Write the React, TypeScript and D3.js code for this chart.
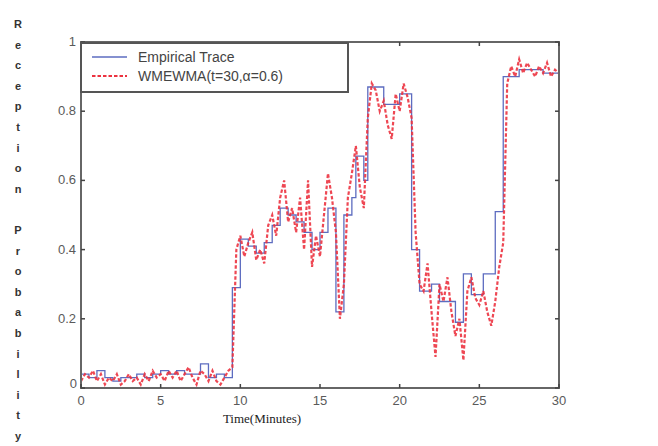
import React from "react";
import * as d3 from "d3";

// Empirical trace: step start times (minutes) and values
const stepTimes = [
  0, 0.5, 1, 1.5, 2, 2.5, 3, 3.5, 4, 4.5, 5, 5.5, 6, 6.5, 7, 7.5, 8, 8.5, 9, 9.5,
  10, 10.5, 11, 11.5, 12, 12.5, 13, 13.5, 14, 14.5, 15, 15.5, 16, 16.5, 17, 17.25,
  17.75, 18, 19, 20, 20.75, 21.25, 22, 22.5, 23.5, 24, 24.5, 25.25, 26, 26.5, 27.5,
  29, 30,
];
const stepValues = [
  0.04, 0.03, 0.05, 0.03, 0.02, 0.03, 0.03, 0.04, 0.03, 0.04, 0.05, 0.04, 0.05, 0.04,
  0.04, 0.07, 0.03, 0.04, 0.03, 0.29, 0.43, 0.41, 0.39, 0.42, 0.47, 0.52, 0.5, 0.48,
  0.45, 0.4, 0.45, 0.52, 0.22, 0.5, 0.55, 0.67, 0.6, 0.87, 0.82, 0.85, 0.4, 0.28, 0.3,
  0.25, 0.19, 0.33, 0.27, 0.33, 0.51, 0.9, 0.92, 0.91, 0.91,
];

// WMEWMA estimate, sampled every 0.25 minutes
const estTimes = d3.range(0, 30.001, 0.25);
const estValues = [
  0.02, 0.04, 0.03, 0.05, 0.02, 0.04, 0.01, 0.03, 0.02, 0.04, 0.01, 0.02, 0.04, 0.02,
  0.03, 0.01, 0.04, 0.02, 0.05, 0.03, 0.04, 0.02, 0.05, 0.03, 0.05, 0.02, 0.04, 0.06,
  0.03, 0.01, 0.05, 0.04, 0.02, 0.05, 0.02, 0.01, 0.03, 0.05, 0.06, 0.4, 0.44, 0.38,
  0.42, 0.45, 0.37, 0.4, 0.36, 0.47, 0.5, 0.44, 0.55, 0.6, 0.48, 0.52, 0.45, 0.55, 0.4,
  0.6, 0.35, 0.44, 0.38, 0.5, 0.62, 0.55, 0.45, 0.2, 0.3, 0.55, 0.62, 0.7, 0.58, 0.52,
  0.78, 0.88, 0.86, 0.8, 0.83, 0.76, 0.72, 0.85, 0.8, 0.88, 0.84, 0.78, 0.45, 0.3, 0.28,
  0.36, 0.22, 0.09, 0.3, 0.25, 0.32, 0.22, 0.15, 0.2, 0.08, 0.28, 0.32, 0.26, 0.24,
  0.28, 0.22, 0.18, 0.25, 0.35, 0.42, 0.88, 0.93, 0.9, 0.95, 0.91, 0.94, 0.92, 0.9,
  0.93, 0.91, 0.94, 0.9, 0.92, 0.91,
];

const xTicks = [0, 5, 10, 15, 20, 25, 30];
const yTicks = [0, 0.2, 0.4, 0.6, 0.8, 1];
const yLabel = "Reception Probability";
const legendLabels = ["Empirical Trace", "WMEWMA(t=30,\u03b1=0.6)"];

const App = () => {
  // plot frame
  const left = 81, right = 559, top = 42, bottom = 388;
  const x = d3.scaleLinear().domain([0, 30]).range([left, right]);
  const y = d3.scaleLinear().domain([0, 1]).range([bottom, top]);

  const stepLine = d3
    .line<number>()
    .x((d, i) => x(stepTimes[i]))
    .y((d) => y(d))
    .curve(d3.curveStepAfter);
  const estLine = d3
    .line<number>()
    .x((d, i) => x(estTimes[i]))
    .y((d) => y(d));

  const tickColor = "#5a5a5a";
  const font = "Liberation Sans, Arial, sans-serif";
  const letterStep = (437 - 25) / (yLabel.length - 1);

  return (
    <svg width={658} height={446} style={{ position: "absolute", left: 0, top: 0, background: "#fff" }}>
      {/* vertical letter-by-letter y label */}
      {yLabel.split("").map((ch, i) => (
        <text
          key={i}
          x={18}
          y={25 + i * letterStep}
          textAnchor="middle"
          dominantBaseline="middle"
          fontFamily={font}
          fontWeight="bold"
          fontSize={11}
          fill="#333"
        >
          {ch}
        </text>
      ))}

      {/* data */}
      <path d={stepLine(stepValues) || ""} fill="none" stroke="#5d6cc0" strokeWidth={1.3} />
      <path
        d={estLine(estValues) || ""}
        fill="none"
        stroke="#ec3340"
        strokeWidth={2.2}
        strokeDasharray="3.5,2"
        opacity={0.9}
      />

      {/* frame */}
      <rect x={left} y={top} width={right - left} height={bottom - top} fill="none" stroke="#666" strokeWidth={2} />

      {/* ticks */}
      {xTicks.map((t) => (
        <g key={"x" + t}>
          <line x1={x(t)} x2={x(t)} y1={bottom} y2={bottom - 4} stroke="#444" strokeWidth={1.5} />
          <line x1={x(t)} x2={x(t)} y1={top} y2={top + 4} stroke="#444" strokeWidth={1.5} />
          <text x={x(t)} y={405} textAnchor="middle" fontFamily={font} fontSize={13} fill={tickColor}>
            {t}
          </text>
        </g>
      ))}
      {yTicks.map((t) => (
        <g key={"y" + t}>
          <line x1={left} x2={left + 4} y1={y(t)} y2={y(t)} stroke="#444" strokeWidth={1.5} />
          <line x1={right} x2={right - 4} y1={y(t)} y2={y(t)} stroke="#444" strokeWidth={1.5} />
          <text
            x={t === 0 ? 77 : 76}
            y={y(t) + (t === 0 ? 0 : 4)}
            textAnchor="end"
            fontFamily={font}
            fontSize={13}
            fill={tickColor}
          >
            {t}
          </text>
        </g>
      ))}

      {/* x label */}
      <text x={262} y={423} textAnchor="middle" fontFamily="Liberation Serif, Times New Roman, serif" fontSize={13} fill="#222">
        Time(Minutes)
      </text>

      {/* legend */}
      <rect x={81} y={43} width={267} height={49} fill="#fff" stroke="#555" strokeWidth={2} />
      <line x1={92} x2={127} y1={57} y2={57} stroke="#5d6cc0" strokeWidth={1.3} />
      <line x1={92} x2={127} y1={76} y2={76} stroke="#ec3340" strokeWidth={2} strokeDasharray="3.5,2" />
      {legendLabels.map((l, i) => (
        <text key={l} x={138} y={62 + i * 19} fontFamily={font} fontSize={14} fill="#444">
          {l}
        </text>
      ))}
    </svg>
  );
};

export default App;
